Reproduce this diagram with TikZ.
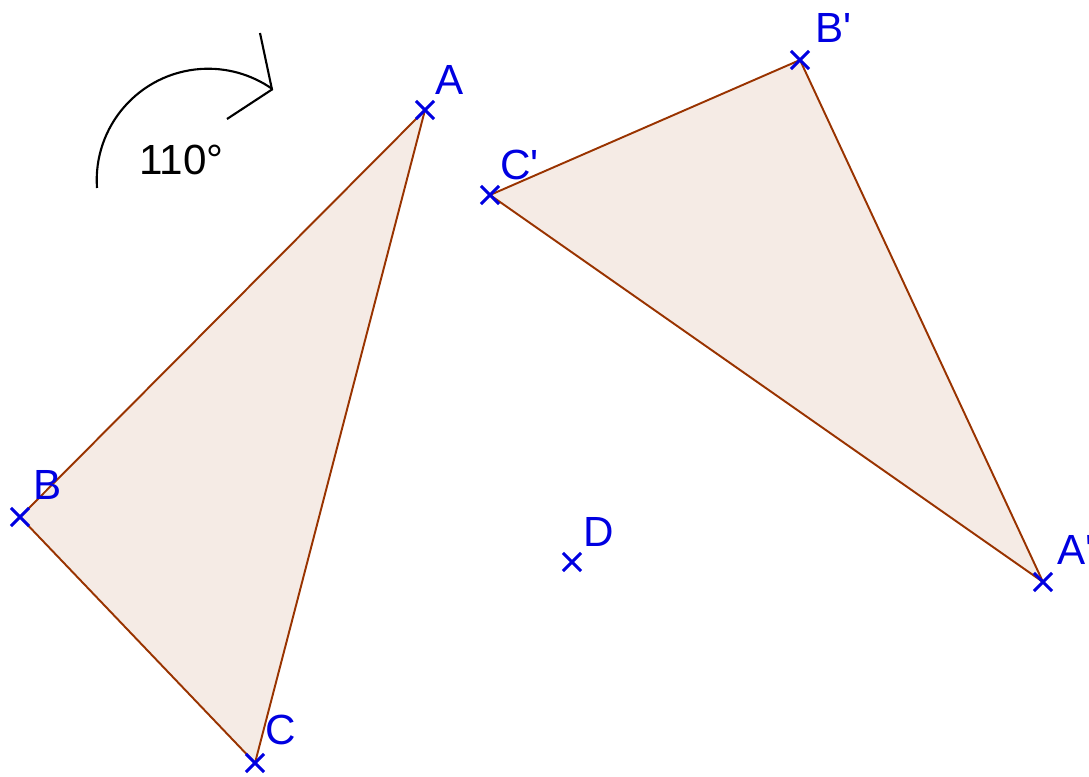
\documentclass[tikz,border=0pt]{standalone}
\usepackage{fontspec}
\setmainfont{Liberation Sans}[Ligatures=TeXOff]
\usetikzlibrary{shapes.misc, positioning}
\definecolor{ptblue}{RGB}{0,0,225}
\definecolor{polybrown}{RGB}{153,51,0}

\begin{document}
\begin{tikzpicture}[
  font=\fontsize{24}{28}\selectfont,
  pt/.style={draw=ptblue, cross out, line width=1.8pt, minimum size=0.30cm,
             inner sep=0pt},
  lbl/.style={text=ptblue, inner sep=0pt},
  tri/.style={draw=polybrown, fill=polybrown!10, line width=1.1pt},
  rot/.style={line width=1.2pt, black}
]
\useasboundingbox (0,0) rectangle (21.78,15.52);

\coordinate (A)  at (8.50, 13.32);
\coordinate (B)  at (0.40, 5.18);
\coordinate (C)  at (5.10, 0.26);
\coordinate (A1) at (20.86, 3.88);
\coordinate (B1) at (16.00, 14.32);
\coordinate (C1) at (9.80, 11.62);
\coordinate (D)  at (11.44, 4.28);

\draw[tri] (A) -- (B) -- (C) -- cycle;
\draw[tri] (A1) -- (B1) -- (C1) -- cycle;

\node[pt] (ptA)  at (A)  {};
\node[pt] (ptB)  at (B)  {};
\node[pt] (ptC)  at (C)  {};
\node[pt] (ptA1) at (A1) {};
\node[pt] (ptB1) at (B1) {};
\node[pt] (ptC1) at (C1) {};
\node[pt] (ptD)  at (D)  {};

\node[lbl, above right=0.30cm and 0.20cm of ptA.center]  (lA)  {A};
\node[lbl, above right=0.34cm and 0.26cm of ptB.center]  (lB)  {B};
\node[lbl, above right=0.36cm and 0.20cm of ptC.center]  (lC)  {C};
\node[lbl, above right=0.34cm and 0.28cm of ptA1.center] (lA1) {A'};
\node[lbl, above right=0.34cm and 0.30cm of ptB1.center] (lB1) {B'};
\node[lbl, above right=0.30cm and 0.20cm of ptC1.center] (lC1) {C'};
\node[lbl, above right=0.30cm and 0.22cm of ptD.center]  (lD)  {D};

% rotation arrow
\coordinate (arcstart) at (1.94, 11.76);
\coordinate (tip)  at (5.44, 13.73);
\coordinate (barb1) at (5.20, 14.86);
\coordinate (barb2) at (4.54, 13.14);
\draw[rot] (arcstart) arc[start angle=184, end angle=55, radius=2.23cm];
\draw[rot] (barb1) -- (tip) -- (barb2);
\node[anchor=south west, inner sep=0pt] (ang) at (2.78, 12.02) {110°};

\end{tikzpicture}
\end{document}
